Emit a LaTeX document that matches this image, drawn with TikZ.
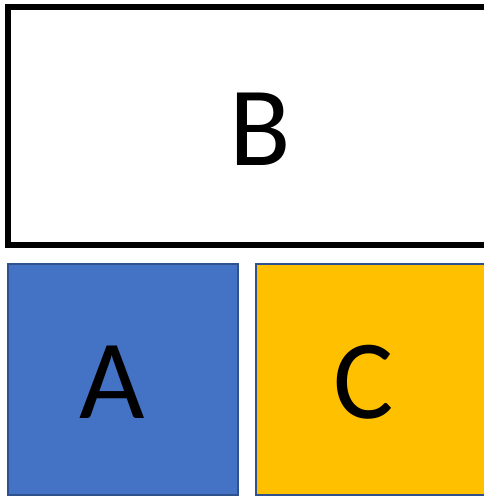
\documentclass[tikz,border=0pt]{standalone}
\usepackage{fontspec}
\setmainfont{Carlito}
\definecolor{boxblue}{HTML}{4472C4}
\definecolor{boxgold}{HTML}{FFC000}
\definecolor{edgeblue}{HTML}{2F528F}
\tikzset{
  letter/.style={anchor=base,inner sep=0pt,font=\fontsize{113}{113}\selectfont},
  tile/.style={draw=edgeblue,line width=2pt}
}
\begin{document}
\begin{tikzpicture}[x=1pt,y=-1pt]
  \useasboundingbox (0,0) rectangle (484,498);
  \clip (0,0) rectangle (484,498);
  % top frame
  \draw[line width=6pt] (8,7) rectangle (486.5,245);
  \node[letter] (labB) at (260,165) {B};
  % bottom tiles
  \draw[tile,fill=boxblue] (8,264) rectangle (238,495);
  \draw[tile,fill=boxgold] (256,264) rectangle (492,495);
  \node[letter] (labA) at (112,418) {A};
  \node[letter] (labC) at (364,418) {C};
\end{tikzpicture}
\end{document}
